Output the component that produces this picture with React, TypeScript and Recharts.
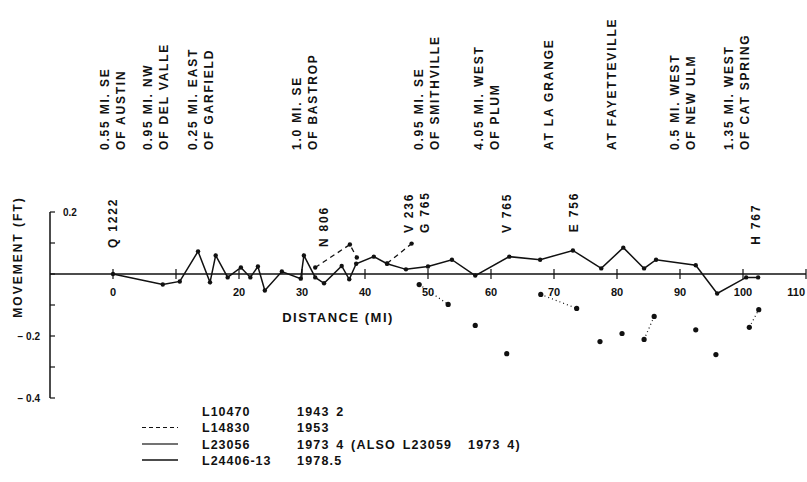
import { ComposedChart, Line, XAxis, YAxis, ReferenceLine, ReferenceDot, Customized } from 'recharts';

const FONT = '"Liberation Sans", Arial, sans-serif';
const INK = '#111';

// solid profile (L23056 1973.4 / L24406-13 1978.5)
const solidMiles = [0, 7.9, 10.6, 13.5, 15.4, 16.3, 18.2, 20.3, 21.8, 23.0, 24.1, 26.8, 29.8, 30.3, 32.1, 33.5, 36.3, 37.5, 38.6, 41.4, 43.5, 46.5, 50.0, 53.8, 57.5, 62.9, 67.8, 73.0, 77.5, 81.0, 84.3, 86.2, 92.5, 95.9, 100.5, 102.4];
const solidMove = [0, -0.034, -0.024, 0.073, -0.027, 0.06, -0.011, 0.021, -0.011, 0.024, -0.053, 0.008, -0.015, 0.06, -0.011, -0.03, 0.026, -0.017, 0.033, 0.056, 0.033, 0.015, 0.024, 0.046, -0.005, 0.056, 0.046, 0.076, 0.018, 0.085, 0.018, 0.046, 0.028, -0.063, -0.011, -0.011];

// dashed profile (L14830 1953)
const dashMiles = [32.1, 37.6, 38.7, 41.0, 43.5, 47.4];
const dashMove = [0.021, 0.095, 0.053, null, 0.034, 0.098];

// dotted profile (L10470 1943.2)
const dotMiles = [48.6, 53.2, 55.5, 57.5, 60.0, 62.5, 65.0, 67.9, 73.6, 75.5, 77.3, 79.0, 80.8, 82.5, 84.3, 85.9, 89.0, 92.5, 94.0, 95.7, 98.0, 101.0, 102.5];
const dotMove = [-0.034, -0.098, null, -0.166, null, -0.257, null, -0.066, -0.111, null, -0.218, null, -0.192, null, -0.211, -0.137, null, -0.18, null, -0.26, null, -0.172, -0.115];

const xTicks = [0, 10, 20, 30, 40, 50, 60, 70, 80, 90, 100, 110];
const xTickLabels = ['0', '', '20', '30', '40', '50', '60', '70', '80', '90', '100', '110'];
const yTicks = [0.2, 0.1, 0, -0.1, -0.2, -0.3, -0.4];
const yTickLabels = ['0.2', '', '', '', '\u2212 0.2', '', '\u2212 0.4'];

const stationMiles = [0, 6.9, 14.0, 30.4, 49.9, 59.4, 69.2, 79.2, 90.4, 99.0];
const stationLine1 = ['0.55 MI. SE', '0.95 MI. NW', '0.25 MI. EAST', '1.0 MI. SE', '0.95 MI. SE', '4.05 MI. WEST', 'AT LA GRANGE', 'AT FAYETTEVILLE', '0.5 MI. WEST', '1.35 MI. WEST'];
const stationLine2 = ['OF AUSTIN', 'OF DEL VALLE', 'OF GARFIELD', 'OF BASTROP', 'OF SMITHVILLE', 'OF PLUM', '', '', 'OF NEW ULM', 'OF CAT SPRING'];

const markMiles = [0, 33.5, 48.3, 62.5, 73.2, 102];
const markLine1 = ['Q 1222', 'N 806', 'V 236', 'V 765', 'E 756', 'H 767'];
const markLine2 = ['', '', 'G 765', '', '', ''];
const markHeight = [0.084, 0.087, 0.132, 0.132, 0.135, 0.094];

const legendCodes = ['L10470', 'L14830', 'L23056', 'L24406-13'];
const legendYears = ['1943 2', '1953', '1973 4 (ALSO L23059', '1978.5'];
const legendNotes = ['', '', '1973 4)', ''];

const solidData = solidMiles.map((x, i) => ({ x, y: solidMove[i] }));
const dashData = dashMiles.map((x, i) => ({ x, y: dashMove[i] }));
const dotData = dotMiles.map((x, i) => ({ x, y: dotMove[i] }));

const textStyle = { fontFamily: FONT, fontWeight: 700, fill: INK };

function Rotated({ cx, bottom, lines, size = 12, spacing = 1.8 }: any) {
  const list = lines.filter((l: string) => l);
  return (
    <g>
      {list.map((l: string, i: number) => {
        const x = cx + (list.length > 1 ? (i === 0 ? -8 : 8) : 0);
        return (
          <text key={i} x={x} y={bottom} transform={`rotate(-90 ${x} ${bottom})`} dominantBaseline="central"
            fontSize={size} letterSpacing={spacing} {...textStyle}>{l}</text>
        );
      })}
    </g>
  );
}

function YTick({ x, y, payload, index }: any) {
  const label = yTickLabels[index] ?? '';
  const top = payload.value > 0.15;
  return (
    <g>
      <line x1={x} y1={y} x2={x + 5} y2={y} stroke={INK} strokeWidth={1.2} />
      {label && (
        <text x={top ? x + 13 : x - 10} y={y + 4} textAnchor={top ? 'start' : 'end'} fontSize={10} {...textStyle}>{label}</text>
      )}
    </g>
  );
}

function Extras() {
  const rows = [411, 427.5, 444, 460];
  return (
    <g>
      <text x={18} y={257} transform="rotate(-90 18 257)" textAnchor="middle" dominantBaseline="central"
        fontSize={12} letterSpacing={2} {...textStyle}>MOVEMENT (FT)</text>
      <text x={338} y={322} textAnchor="middle" fontSize={13} letterSpacing={1.5} {...textStyle}>DISTANCE (MI)</text>
      {rows.map((ry, i) => (
        <g key={i}>
          {i === 1 && <line x1={142} y1={ry} x2={178} y2={ry} stroke={INK} strokeWidth={1.2} strokeDasharray="4 3" />}
          {i === 2 && <line x1={142} y1={ry} x2={178} y2={ry} stroke="#444" strokeWidth={1.3} />}
          {i === 3 && <line x1={142} y1={ry} x2={178} y2={ry} stroke={INK} strokeWidth={1.3} />}
          <text x={202} y={ry + 4.5} fontSize={12.5} letterSpacing={1} {...textStyle}>{legendCodes[i]}</text>
          <text x={297} y={ry + 4.5} fontSize={12.5} letterSpacing={1.2} wordSpacing={2} {...textStyle}>{legendYears[i]}</text>
          {legendNotes[i] && <text x={468} y={ry + 4.5} fontSize={12.5} letterSpacing={1.2} wordSpacing={2} {...textStyle}>{legendNotes[i]}</text>}
        </g>
      ))}
    </g>
  );
}

export default function App() {
  const lastTick = xTicks.length - 1;
  return (
    <div style={{ position: 'absolute', left: 0, top: 0, width: 807, height: 482, background: '#fff' }}>
      <ComposedChart width={807} height={482} margin={{ top: 212, right: 1, left: 8, bottom: 84 }}>
        <XAxis type="number" dataKey="x" domain={[-10, 110]} allowDataOverflow hide />
        <YAxis type="number" domain={[-0.4, 0.2]} ticks={yTicks} width={42} interval={0}
          tickSize={0} tickMargin={0} tickLine={false} tick={<YTick />}
          axisLine={{ stroke: INK, strokeWidth: 1.5 }} />
        <ReferenceLine y={0} stroke={INK} strokeWidth={1.6} />
        {xTicks.map((t, i) => (
          <ReferenceDot key={`xt${t}`} x={t} y={0} r={0} shape={(p: any) => (
            <g>
              <line x1={p.cx} y1={p.cy - 5} x2={p.cx} y2={p.cy + 5} stroke={INK} strokeWidth={1.2} />
              <text x={i === lastTick ? p.cx - 1 : p.cx} y={p.cy + 22} textAnchor={i === lastTick ? 'end' : 'middle'}
                fontSize={11} {...textStyle}>{xTickLabels[i]}</text>
            </g>
          )} />
        ))}
        {stationMiles.map((m, i) => (
          <ReferenceDot key={`st${i}`} x={m} y={0.2} r={0} shape={(p: any) => (
            <Rotated cx={p.cx} bottom={p.cy - 62} lines={[stationLine1[i], stationLine2[i]]} />
          )} />
        ))}
        {markMiles.map((m, i) => (
          <ReferenceDot key={`bm${i}`} x={m} y={markHeight[i]} r={0} shape={(p: any) => (
            <Rotated cx={p.cx} bottom={p.cy} lines={[markLine1[i], markLine2[i]]} />
          )} />
        ))}
        <Line data={dotData} dataKey="y" type="linear" stroke={INK} strokeWidth={1.2} strokeDasharray="1 3"
          dot={{ r: 2.6, fill: INK, stroke: INK, strokeWidth: 0 }} connectNulls={false} isAnimationActive={false} />
        <Line data={dashData} dataKey="y" type="linear" stroke={INK} strokeWidth={1.3} strokeDasharray="5 4"
          dot={{ r: 2.2, fill: INK, stroke: INK, strokeWidth: 0 }} connectNulls={false} isAnimationActive={false} />
        <Line data={solidData} dataKey="y" type="linear" stroke={INK} strokeWidth={1.5}
          dot={{ r: 2.2, fill: INK, stroke: INK, strokeWidth: 0 }} isAnimationActive={false} />
        <Customized component={Extras} />
      </ComposedChart>
    </div>
  );
}
